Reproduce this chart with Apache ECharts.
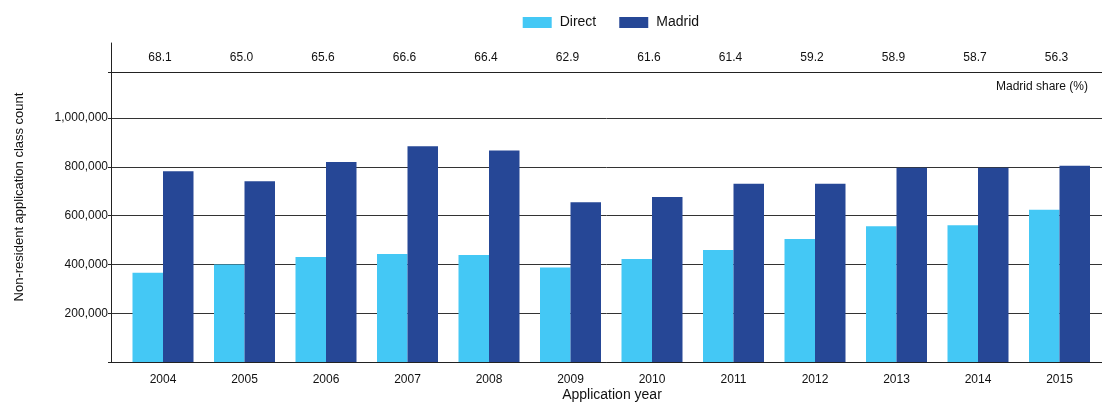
<!DOCTYPE html>
<html>
<head>
<meta charset="utf-8">
<script src="https://cdn.jsdelivr.net/npm/echarts@6/dist/echarts.min.js"></script>
<style>
  html, body { margin: 0; padding: 0; background: #fff; }
  #chart { width: 1102px; height: 405px; }
</style>
</head>
<body>
<div id="chart"></div>
<script>
const years = ['2004','2005','2006','2007','2008','2009','2010','2011','2012','2013','2014','2015'];
const directValues = [366000, 400000, 430000, 443000, 438000, 387000, 422000, 459000, 504000, 556000, 560000, 624000];
const madridValues = [782000, 741000, 820000, 884000, 867000, 655000, 676000, 730000, 730000, 796000, 796000, 804000];
const madridShare = [68.1, 65.0, 65.6, 66.6, 66.4, 62.9, 61.6, 61.4, 59.2, 58.9, 58.7, 56.3];
const yTickLabelMax = 1000000;

const FONT = '"Liberation Sans", Arial, sans-serif';
const TXT = '#111';
const LINE = '#222';
const yMax = 1188370;

const chart = echarts.init(document.getElementById('chart'), null, { renderer: 'canvas' });

const hiddenValueAxis = (extra) => Object.assign({
  type: 'value', min: 0, max: 1,
  axisLabel: { show: false }, axisTick: { show: false }, splitLine: { show: false },
  axisLine: { show: false }
}, extra);

chart.setOption({
  animation: false,
  backgroundColor: '#fff',
  textStyle: { fontFamily: FONT },
  legend: {
    data: ['Direct', 'Madrid'],
    left: 517.7, top: 6,
    itemWidth: 29, itemHeight: 11, itemGap: 23,
    icon: 'rect',
    textStyle: { fontFamily: FONT, fontSize: 14, color: TXT, padding: [7, 0, 0, 3], lineHeight: 16 }
  },
  title: {
    text: 'Madrid share (%)',
    right: 9, top: 76,
    textStyle: { fontFamily: FONT, fontSize: 12, fontWeight: 'normal', color: TXT }
  },
  grid: [
    { left: 111, right: 0, top: 72, bottom: 43 },          // frame for main
    { left: 122.25, right: 1.75, top: 72, bottom: 43 },    // bars
    { left: 111, right: 0, top: 43, height: 29 },          // frame for share row
    { left: 122.25, right: 1.75, top: 43, height: 29 }     // share labels
  ],
  xAxis: [
    hiddenValueAxis({ gridIndex: 0, position: 'bottom', axisLine: { show: true, lineStyle: { color: LINE, width: 1 } } }),
    {
      gridIndex: 1, type: 'category', data: years,
      axisLine: { show: false }, axisTick: { show: false },
      axisLabel: { color: TXT, fontSize: 12, fontFamily: FONT, margin: 12 }
    },
    hiddenValueAxis({ gridIndex: 2, position: 'top', axisLine: { show: true, lineStyle: { color: LINE, width: 1 } } }),
    hiddenValueAxis({ gridIndex: 2, position: 'bottom', axisLine: { show: true, lineStyle: { color: LINE, width: 1 } } }),
    {
      gridIndex: 3, type: 'category', data: years, show: false
    }
  ],
  yAxis: [
    {
      gridIndex: 0, type: 'value', min: 0, max: yMax, interval: 200000,
      axisLine: { show: true, lineStyle: { color: LINE, width: 1 } },
      axisTick: { show: true, length: 3, lineStyle: { color: LINE } },
      axisLabel: {
        color: TXT, fontSize: 12, fontFamily: FONT, margin: 3,
        formatter: v => (v === 0 || v > yTickLabelMax) ? '' : v.toLocaleString('en-US')
      },
      splitLine: { show: true, lineStyle: { color: '#333', width: 1 } }
    },
    { gridIndex: 1, type: 'value', min: 0, max: yMax, show: false },
    hiddenValueAxis({ gridIndex: 2, position: 'left', axisLine: { show: true, lineStyle: { color: LINE, width: 1 } } }),
    { gridIndex: 3, type: 'value', min: 0, max: 1, show: false }
  ],
  graphic: [
    {
      type: 'text', x: 19, y: 197, rotation: Math.PI / 2,
      style: { text: 'Non-resident application class count', fontFamily: FONT, fontSize: 13, fill: TXT,
               align: 'center', verticalAlign: 'middle', textAlign: 'center', textVerticalAlign: 'middle' }
    },
    {
      type: 'text', x: 612, y: 395,
      style: { text: 'Application year', fontFamily: FONT, fontSize: 14, fill: TXT,
               align: 'center', verticalAlign: 'middle', textAlign: 'center', textVerticalAlign: 'middle' }
    }
  ],
  series: [
    {
      name: 'Direct', type: 'bar', xAxisIndex: 1, yAxisIndex: 1,
      data: directValues, barWidth: 30.5, barGap: '0%',
      itemStyle: { color: '#44c8f5' }
    },
    {
      name: 'Madrid', type: 'bar', xAxisIndex: 1, yAxisIndex: 1,
      data: madridValues, barWidth: 30.5, barGap: '0%',
      itemStyle: { color: '#264796' }
    },
    {
      name: 'share', type: 'scatter', xAxisIndex: 4, yAxisIndex: 3,
      data: madridShare.map((s, i) => [years[i], 0.5, s]),
      symbol: 'circle', symbolSize: 1,
      itemStyle: { color: 'rgba(0,0,0,0)', opacity: 1 },
      label: {
        show: true, position: 'inside', offset: [-3, 0],
        color: TXT, fontSize: 12, fontFamily: FONT, opacity: 1,
        textBorderWidth: 0,
        formatter: p => p.value[2].toFixed(1)
      },
      silent: true
    }
  ]
});
</script>
</body>
</html>
